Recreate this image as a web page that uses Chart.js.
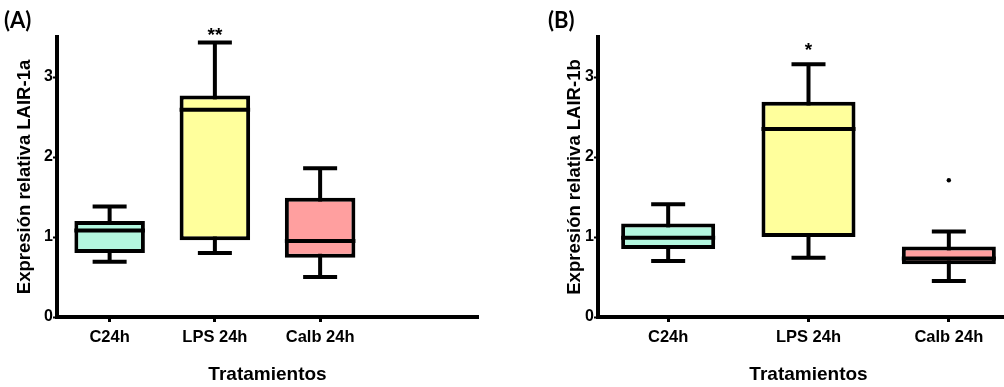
<!DOCTYPE html>
<html>
<head>
<meta charset="utf-8">
<script src="https://cdn.jsdelivr.net/npm/chart.js@4/dist/chart.umd.min.js"></script>
<style>
    html, body { margin: 0; padding: 0; background: #fff; overflow: hidden; }
    body { width: 1004px; height: 387px; position: relative; }
    .panel { position: absolute; top: 0; height: 387px; }
    #panelA { left: 0; width: 500px; }
    #panelB { left: 500px; width: 530px; }
</style>
</head>
<body>
<div class="panel" id="panelA"><canvas id="chartA"></canvas></div>
<div class="panel" id="panelB"><canvas id="chartB"></canvas></div>
<script>
// categories
const groupsA = ['C24h', 'LPS 24h', 'Calb 24h', ''];
const groupsB = ['C24h', 'LPS 24h', 'Calb 24h'];
const yTicks = [0, 1, 2, 3];

// panel A: LAIR-1a
const minA    = [0.69, 0.80, 0.50];
const q1A     = [0.80, 0.96, 0.74];
const medianA = [1.08, 2.59, 0.95];
const q3A     = [1.20, 2.77, 1.49];
const maxA    = [1.38, 3.43, 1.86];
const starsA  = ['', '**', ''];
const starYA  = [null, 3.57, null];

// panel B: LAIR-1b
const minB     = [0.70, 0.74, 0.45];
const q1B      = [0.85, 1.00, 0.66];
const medianB  = [0.99, 2.35, 0.73];
const q3B      = [1.17, 2.69, 0.88];
const maxB     = [1.41, 3.16, 1.07];
const starsB   = ['', '*', ''];
const starYB   = [null, 3.38, null];
const outlierB = [null, null, 1.71];

const boxColors = ['#b3f7df', '#ffff9c', '#ff9f9f'];
const LW = 4;
const FONT = 'Arial, "Liberation Sans", sans-serif';

// whiskers, medians, outliers and stars drawn on the library scales
const boxExtras = {
    id: 'boxExtras',
    beforeDatasetsDraw(chart, args, opts) {
        let {ctx, scales: {x, y}} = chart;
        ctx.save();
        ctx.strokeStyle = '#000';
        ctx.lineWidth = LW;
        opts.min.forEach((v, i) => {
            let cx = x.getPixelForValue(i);
            ctx.beginPath();
            ctx.moveTo(cx, y.getPixelForValue(opts.min[i]));
            ctx.lineTo(cx, y.getPixelForValue(opts.max[i]));
            ctx.stroke();
            [opts.min[i], opts.max[i]].forEach(w => {
                ctx.beginPath();
                ctx.moveTo(cx - 17, y.getPixelForValue(w));
                ctx.lineTo(cx + 17, y.getPixelForValue(w));
                ctx.stroke();
            });
        });
        ctx.restore();
    },
    afterDatasetsDraw(chart, args, opts) {
        let {ctx, scales: {x, y}} = chart;
        let meta = chart.getDatasetMeta(0);
        ctx.save();
        ctx.strokeStyle = '#000';
        ctx.fillStyle = '#000';
        ctx.lineWidth = LW;
        opts.median.forEach((m, i) => {
            let bar = meta.data[i];
            let half = bar.width / 2;
            let my = y.getPixelForValue(m);
            ctx.beginPath();
            ctx.moveTo(bar.x - half, my);
            ctx.lineTo(bar.x + half, my);
            ctx.stroke();

            if (opts.outliers && opts.outliers[i] != null) {
                ctx.beginPath();
                ctx.arc(bar.x, y.getPixelForValue(opts.outliers[i]), 2.2, 0, Math.PI * 2);
                ctx.fill();
            }
            if (opts.stars[i]) {
                ctx.font = 'bold 19px ' + FONT;
                ctx.textAlign = 'center';
                ctx.textBaseline = 'top';
                // asterisk glyph sits in the upper part of the em box
                ctx.fillText(opts.stars[i], bar.x, y.getPixelForValue(opts.starY[i]) - 5);
            }
        });
        // panel letter
        ctx.font = 'bold 22px Lato, "Open Sans", sans-serif';
        ctx.textAlign = 'left';
        ctx.textBaseline = 'middle';
        ctx.fillText(opts.letter, opts.letterX, 21);
        ctx.restore();
    }
};

function makeChart(id, labels, q1, q3, extras, yTitle, padLeft, yWidth, padRight) {
    let n = q1.length;
    let bars = [];
    for (let i = 0; i < n; i++) bars.push([q1[i], q3[i]]);

    return new Chart(document.getElementById(id), {
        type: 'bar',
        data: {
            labels: labels,
            datasets: [{
                data: bars,
                backgroundColor: boxColors,
                borderColor: '#000',
                borderWidth: LW,
                borderSkipped: false,
                categoryPercentage: 1,
                barPercentage: 0.67
            }]
        },
        options: {
            responsive: true,
            maintainAspectRatio: false,
            animation: false,
            events: [],
            layout: { padding: { left: padLeft, right: padRight, top: 37, bottom: 1 } },
            plugins: {
                legend: { display: false },
                tooltip: { enabled: false },
                boxExtras: extras
            },
            scales: {
                x: {
                    grid: {
                        offset: false,
                        drawOnChartArea: false,
                        drawTicks: true,
                        tickLength: 5,
                        tickWidth: 3,
                        // no tick mark under the empty slot
                        tickColor: c => labels[c.index] ? '#000' : 'rgba(0,0,0,0)'
                    },
                    border: { color: '#000', width: LW },
                    ticks: {
                        color: '#000',
                        padding: 6,
                        font: { family: FONT, size: 16.5, weight: 'bold' }
                    },
                    title: {
                        display: true,
                        text: 'Tratamientos',
                        color: '#000',
                        padding: { top: 10, bottom: 0 },
                        font: { family: FONT, size: 19, weight: 'bold' }
                    },
                    afterFit: s => { s.height = 69; }
                },
                y: {
                    min: 0,
                    max: 3.5,
                    afterBuildTicks: s => { s.ticks = yTicks.map(v => ({ value: v })); },
                    grid: {
                        drawOnChartArea: false,
                        drawTicks: true,
                        tickLength: 4,
                        tickWidth: 2,
                        tickColor: '#000'
                    },
                    border: { color: '#000', width: LW },
                    ticks: {
                        color: '#000',
                        padding: 0,
                        font: { family: FONT, size: 16, weight: 'bold' }
                    },
                    title: {
                        display: true,
                        text: yTitle,
                        color: '#000',
                        padding: { top: 4, bottom: 0 },
                        font: { family: FONT, size: 18.5, weight: 'bold' }
                    },
                    afterFit: s => { s.width = yWidth; }
                }
            }
        },
        plugins: [boxExtras]
    });
}

makeChart('chartA', groupsA, q1A, q3A, {
    min: minA, max: maxA, median: medianA, stars: starsA, starY: starYA, letter: '(A)', letterX: 4
}, 'Expresión relativa LAIR-1a', 10, 47, 22);

makeChart('chartB', groupsB, q1B, q3B, {
    min: minB, max: maxB, median: medianB, stars: starsB, starY: starYB, outliers: outlierB, letter: '(B)', letterX: 48
}, 'Expresión relativa LAIR-1b', 60, 38, 11);
</script>
</body>
</html>
